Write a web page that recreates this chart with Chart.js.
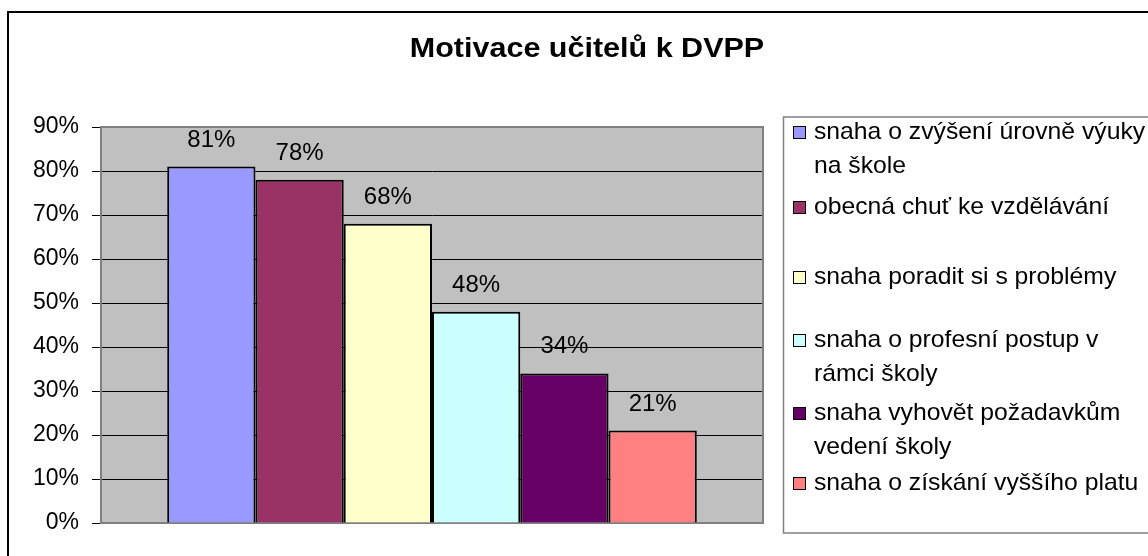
<!DOCTYPE html>
<html>
<head>
<meta charset="utf-8">
<script src="https://cdn.jsdelivr.net/npm/chart.js@4/dist/chart.umd.min.js"></script>
<style>
  body { margin: 0; background: #fff; }
  #wrap { width: 1148px; height: 556px; }
</style>
</head>
<body>
<div id="wrap"><canvas id="barChart" width="1148" height="556"></canvas></div>
<script>
const chartTitle = "Motivace učitelů k DVPP";
const categories = [""];
const seriesNames = [
  "snaha o zvýšení úrovně výuky\nna škole",
  "obecná chuť ke vzdělávání",
  "snaha poradit si s problémy",
  "snaha o profesní postup v\nrámci školy",
  "snaha vyhovět požadavkům\nvedení školy",
  "snaha o získání vyššího platu"
];
const seriesValues = [81, 78, 68, 48, 34, 21];
const seriesColors = ["#9999FF", "#993366", "#FFFFCC", "#CCFFFF", "#660066", "#FF8080"];
const yTicks = [0, 10, 20, 30, 40, 50, 60, 70, 80, 90];

// legend layout (Excel spaces the rows unevenly)
const legendRowY = [132, 207, 277, 340, 413, 483];
const legendLineH = 34;

Chart.defaults.font.family = "'Liberation Sans', Arial, sans-serif";
Chart.defaults.color = "#000";

let datasets = [];
for (let i = 0; i < seriesNames.length; i++) {
  datasets.push({
    label: seriesNames[i],
    data: [seriesValues[i]],
    backgroundColor: seriesColors[i],
    borderColor: "#000",
    borderWidth: 2,
    categoryPercentage: 0.8,
    barPercentage: 1.0
  });
}

// text a bit wider than the font, like the old Excel rendering
function wideText(c, text, x, y, sx) {
  c.save();
  c.translate(x, y);
  c.scale(sx, 1);
  c.fillText(text, 0, 0);
  c.restore();
}

const excelLook = {
  id: "excelLook",
  beforeDraw(chart) {
    const c = chart.ctx;
    const a = chart.chartArea;
    c.save();
    c.fillStyle = "#fff";
    c.fillRect(0, 0, chart.width, chart.height);
    // outer frame
    c.strokeStyle = "#000";
    c.lineWidth = 2;
    c.strokeRect(8, 12, chart.width + 20, chart.height + 20);
    // plot background
    c.fillStyle = "#C0C0C0";
    c.fillRect(a.left, a.top, a.right - a.left, a.bottom - a.top);
    // title
    c.fillStyle = "#000";
    c.font = "bold 27px 'Liberation Sans', Arial, sans-serif";
    c.textAlign = "center";
    c.textBaseline = "alphabetic";
    wideText(c, chartTitle, 587, 57, 1.13);
    c.restore();
  },
  beforeDatasetsDraw(chart) {
    const c = chart.ctx;
    const a = chart.chartArea;
    c.save();
    c.strokeStyle = "#808080";
    c.lineWidth = 2;
    c.strokeRect(a.left, a.top, a.right - a.left, a.bottom - a.top);
    c.restore();
  },
  afterDatasetsDraw(chart) {
    const c = chart.ctx;
    c.save();
    c.fillStyle = "#000";
    c.font = "24px 'Liberation Sans', Arial, sans-serif";
    c.textAlign = "center";
    c.textBaseline = "alphabetic";
    chart.data.datasets.forEach((ds, i) => {
      const bar = chart.getDatasetMeta(i).data[0];
      c.fillText(ds.data[0] + "%", bar.x, bar.y - 20);
    });
    c.restore();
  },
  afterDraw(chart) {
    const c = chart.ctx;
    c.save();
    // legend box
    c.strokeStyle = "#808080";
    c.lineWidth = 1.5;
    c.strokeRect(783.5, 117, 400, 416);
    c.font = "24px 'Liberation Sans', Arial, sans-serif";
    c.textAlign = "left";
    c.textBaseline = "middle";
    chart.data.datasets.forEach((ds, i) => {
      const y = legendRowY[i];
      c.fillStyle = ds.backgroundColor;
      c.fillRect(793, y - 6, 13, 13);
      c.strokeStyle = "#000";
      c.lineWidth = 1;
      c.strokeRect(793.5, y - 5.5, 12, 12);
      c.fillStyle = "#000";
      ds.label.split("\n").forEach((line, j) => {
        wideText(c, line, 814, y + j * legendLineH, 1.03);
      });
    });
    c.restore();
  }
};

let ctx = document.getElementById("barChart").getContext("2d");
let chart = new Chart(ctx, {
  type: "bar",
  data: { labels: categories, datasets: datasets },
  options: {
    responsive: false,
    animation: false,
    layout: { padding: { left: 0, right: 385, top: 127, bottom: 33 } },
    plugins: {
      legend: { display: false },
      title: { display: false },
      tooltip: { enabled: false }
    },
    scales: {
      x: { display: false },
      y: {
        min: 0,
        max: 90,
        afterFit: (s) => { s.width = 101; },
        afterBuildTicks: (s) => { s.ticks = yTicks.map(v => ({ value: v })); },
        ticks: {
          padding: 13,
          font: { size: 23 },
          color: "#000",
          callback: (v) => v + "%"
        },
        grid: {
          color: (g) => (g.tick && g.tick.value === 90 ? "#808080" : "#000"),
          lineWidth: 1,
          drawTicks: true,
          tickLength: 9,
          tickColor: "#000"
        },
        border: { display: true, color: "#808080", width: 2 }
      }
    }
  },
  plugins: [excelLook]
});
</script>
</body>
</html>
